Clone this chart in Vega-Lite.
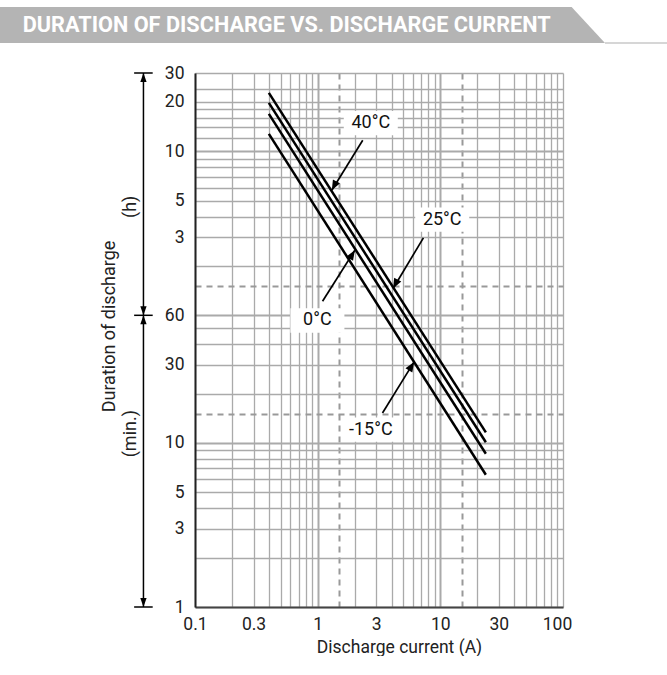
{
  "$schema": "https://vega.github.io/schema/vega-lite/v6.json",
  "padding": {"left": 0, "top": 7, "right": 0, "bottom": 0},
  "background": "white",
  "config": {"font": "Roboto", "view": {"stroke": null}},
  "datasets": {
    "bannerShape": [{"bx": 0, "by": 1}, {"bx": 0.857, "by": 1}, {"bx": 0.907, "by": 0}],
    "bannerLine": [{"bx": 0.907, "bx2": 1, "by": 0}],
    "bannerTitle": [{"title": "DURATION OF DISCHARGE VS. DISCHARGE CURRENT", "bx": 0.034, "by": 0.5}],
    "curves": [
      {"temp": "40°C", "current": 0.4, "minutes": 1362},
      {"temp": "40°C", "current": 23.5, "minutes": 11.6},
      {"temp": "25°C", "current": 0.4, "minutes": 1184},
      {"temp": "25°C", "current": 23.5, "minutes": 10.1},
      {"temp": "0°C", "current": 0.4, "minutes": 1014},
      {"temp": "0°C", "current": 23.5, "minutes": 8.6},
      {"temp": "-15°C", "current": 0.4, "minutes": 766},
      {"temp": "-15°C", "current": 23.5, "minutes": 6.4}
    ],
    "labels": [
      {"label": "40°C", "current": 2.71, "minutes": 890},
      {"label": "25°C", "current": 10.36, "minutes": 230},
      {"label": "0°C", "current": 0.995, "minutes": 55.8},
      {"label": "-15°C", "current": 2.71, "minutes": 12.07}
    ],
    "arrows": [
      {"temp": "40°C", "fromCurrent": 2.33, "fromMinutes": 701, "current": 1.305, "minutes": 347, "dir": "down"},
      {"temp": "25°C", "fromCurrent": 7.28, "fromMinutes": 178, "current": 4.12, "minutes": 87.4, "dir": "down"},
      {"temp": "0°C", "fromCurrent": 1.096, "fromMinutes": 73.1, "current": 2.009, "minutes": 149.6, "dir": "up"},
      {"temp": "-15°C", "fromCurrent": 3.377, "fromMinutes": 15.24, "current": 6.11, "minutes": 31.2, "dir": "up"}
    ],
    "rangeRules": [
      {"current": 0.038, "current2": 0.038, "minutes": 1, "minutes2": 1800},
      {"current": 0.0319, "current2": 0.0452, "minutes": 1, "minutes2": 1},
      {"current": 0.0319, "current2": 0.0452, "minutes": 60, "minutes2": 60},
      {"current": 0.0319, "current2": 0.0452, "minutes": 1800, "minutes2": 1800}
    ],
    "rangeHeads": [
      {"current": 0.038, "minutes": 1800, "dir": "up"},
      {"current": 0.038, "minutes": 60, "dir": "down"},
      {"current": 0.038, "minutes": 60, "dir": "up"},
      {"current": 0.038, "minutes": 1, "dir": "down"}
    ]
  },
  "spacing": 20,
  "vconcat": [
    {
      "width": 667,
      "height": 36,
      "layer": [
        {
          "data": {"name": "bannerShape"},
          "mark": {"type": "area", "color": "#b4b4b4"},
          "encoding": {
            "x": {"field": "bx", "type": "quantitative", "scale": {"domain": [0, 1], "nice": false}, "axis": null},
            "y": {"field": "by", "type": "quantitative", "scale": {"domain": [0, 1], "nice": false}, "axis": null}
          }
        },
        {
          "data": {"name": "bannerLine"},
          "mark": {"type": "rule", "color": "#c8c8c8", "strokeWidth": 1.5},
          "encoding": {
            "x": {"field": "bx", "type": "quantitative", "axis": null},
            "x2": {"field": "bx2"},
            "y": {"field": "by", "type": "quantitative", "axis": null}
          }
        },
        {
          "data": {"name": "bannerTitle"},
          "mark": {"type": "text", "align": "left", "baseline": "middle", "color": "white", "fontSize": 21.7, "fontWeight": "bold"},
          "encoding": {
            "x": {"field": "bx", "type": "quantitative", "axis": null},
            "y": {"field": "by", "type": "quantitative", "axis": null},
            "text": {"field": "title"}
          }
        }
      ]
    },
    {
      "spacing": 0,
      "align": "none",
      "hconcat": [
        {"width": 100, "height": 10, "data": {"values": []}, "mark": "point"},
        {
          "width": 368,
          "height": 534,
          "layer": [
            {
              "data": {"name": "curves"},
              "mark": {"type": "line", "color": "black", "strokeWidth": 2.5},
              "encoding": {
                "x": {
                  "field": "current", "type": "quantitative",
                  "scale": {"type": "log", "domain": [0.1, 100], "nice": false},
                  "axis": {
                    "values": [0.1, 0.2, 0.3, 0.4, 0.5, 0.6, 0.7, 0.8, 0.9, 1, 1.5, 2, 3, 4, 5, 6, 7, 8, 9, 10, 15, 20, 30, 40, 50, 60, 70, 80, 90, 100],
                    "labelExpr": "indexof([0.1, 0.3, 1, 3, 10, 30, 100], datum.value) >= 0 ? '' + datum.value : ''",
                    "labelOverlap": false,
                    "labelFlush": false,
                    "labelFontSize": 17.5,
                    "labelColor": "#222",
                    "labelPadding": 8,
                    "labelOffset": {"condition": {"test": "datum.value == 100", "value": -6}, "value": 0},
                    "ticks": false,
                    "domainColor": "#444",
                    "domainWidth": 2,
                    "grid": true,
                    "gridColor": {"condition": {"test": "datum.value == 1.5 || datum.value == 15", "value": "#999999"}, "value": "#aaaaaa"},
                    "gridDash": {"condition": {"test": "datum.value == 1.5 || datum.value == 15", "value": [6, 5]}, "value": []},
                    "gridWidth": {"condition": {"test": "indexof([1, 10, 1.5, 15], datum.value) >= 0", "value": 2}, "value": 1.3},
                    "gridOpacity": 1,
                    "title": "Discharge current (A)",
                    "titleX": 204,
                    "titleFontSize": 17.5,
                    "titleFontWeight": "normal",
                    "titleColor": "#222",
                    "titlePadding": 6
                  }
                },
                "y": {
                  "field": "minutes", "type": "quantitative",
                  "scale": {"type": "log", "domain": [1, 1800], "nice": false},
                  "axis": {
                    "values": [1, 2, 3, 4, 5, 6, 7, 8, 9, 10, 15, 20, 30, 40, 50, 60, 90, 120, 180, 240, 300, 360, 420, 480, 540, 600, 720, 840, 960, 1080, 1200, 1440, 1800],
                    "labelExpr": "datum.value == 180 ? '3' : datum.value == 300 ? '5' : datum.value == 600 ? '10' : datum.value == 1200 ? '20' : datum.value == 1800 ? '30' : (indexof([1, 3, 5, 10, 30, 60], datum.value) >= 0 ? '' + datum.value : '')",
                    "labelOverlap": false,
                    "labelFontSize": 17.5,
                    "labelColor": "#222",
                    "labelPadding": 11,
                    "ticks": false,
                    "domainColor": "#222",
                    "domainWidth": 2,
                    "grid": true,
                    "gridColor": {"condition": {"test": "datum.value == 15 || datum.value == 90", "value": "#999999"}, "value": "#aaaaaa"},
                    "gridDash": {"condition": {"test": "datum.value == 15 || datum.value == 90", "value": [6, 5]}, "value": []},
                    "gridWidth": {"condition": {"test": "indexof([10, 60, 600, 15, 90], datum.value) >= 0", "value": 2}, "value": 1.3},
                    "gridOpacity": 1,
                    "title": [
                      "Duration of discharge",
                      "(min.)\u00a0\u00a0\u00a0\u00a0\u00a0\u00a0\u00a0\u00a0\u00a0\u00a0\u00a0\u00a0\u00a0\u00a0\u00a0\u00a0\u00a0\u00a0\u00a0\u00a0\u00a0\u00a0\u00a0\u00a0\u00a0\u00a0\u00a0\u00a0\u00a0\u00a0\u00a0\u00a0\u00a0\u00a0\u00a0\u00a0\u00a0\u00a0\u00a0\u00a0\u00a0\u00a0\u00a0(h)"
                    ],
                    "titleY": 253,
                    "titleFontSize": 18,
                    "titleFontWeight": "normal",
                    "titleColor": "#222",
                    "titleLineHeight": 21,
                    "titlePadding": 25
                  }
                },
                "detail": {"field": "temp"}
              }
            },
            {
              "data": {"name": "labels"},
              "mark": {"type": "point", "shape": "M-1,-0.45H1V0.45H-1Z", "filled": true, "color": "white", "opacity": 1, "size": 2916, "strokeWidth": 0},
              "encoding": {
                "x": {"field": "current", "type": "quantitative", "scale": {"type": "log", "domain": [0.1, 100], "nice": false}},
                "y": {"field": "minutes", "type": "quantitative", "scale": {"type": "log", "domain": [1, 1800], "nice": false}}
              }
            },
            {
              "data": {"name": "arrows"},
              "mark": {"type": "rule", "color": "black", "strokeWidth": 1.7},
              "encoding": {
                "x": {"field": "fromCurrent", "type": "quantitative", "scale": {"type": "log", "domain": [0.1, 100], "nice": false}},
                "y": {"field": "fromMinutes", "type": "quantitative", "scale": {"type": "log", "domain": [1, 1800], "nice": false}},
                "x2": {"field": "current"},
                "y2": {"field": "minutes"}
              }
            },
            {
              "data": {"name": "arrows"},
              "transform": [{"filter": "datum.dir == 'down'"}],
              "mark": {"type": "point", "shape": "M0,0L-0.4,-1L0.4,-1Z", "angle": 27.5, "filled": true, "color": "black", "opacity": 1, "size": 400, "strokeWidth": 0},
              "encoding": {
                "x": {"field": "current", "type": "quantitative", "scale": {"type": "log", "domain": [0.1, 100], "nice": false}},
                "y": {"field": "minutes", "type": "quantitative", "scale": {"type": "log", "domain": [1, 1800], "nice": false}}
              }
            },
            {
              "data": {"name": "arrows"},
              "transform": [{"filter": "datum.dir == 'up'"}],
              "mark": {"type": "point", "shape": "M0,0L-0.4,1L0.4,1Z", "angle": 31.3, "filled": true, "color": "black", "opacity": 1, "size": 400, "strokeWidth": 0},
              "encoding": {
                "x": {"field": "current", "type": "quantitative", "scale": {"type": "log", "domain": [0.1, 100], "nice": false}},
                "y": {"field": "minutes", "type": "quantitative", "scale": {"type": "log", "domain": [1, 1800], "nice": false}}
              }
            },
            {
              "data": {"name": "labels"},
              "mark": {"type": "text", "fontSize": 18, "color": "#111", "align": "center", "baseline": "middle"},
              "encoding": {
                "x": {"field": "current", "type": "quantitative", "scale": {"type": "log", "domain": [0.1, 100], "nice": false}},
                "y": {"field": "minutes", "type": "quantitative", "scale": {"type": "log", "domain": [1, 1800], "nice": false}},
                "text": {"field": "label"}
              }
            },
            {
              "data": {"name": "rangeRules"},
              "mark": {"type": "rule", "color": "black", "strokeWidth": 1.5},
              "encoding": {
                "x": {"field": "current", "type": "quantitative", "scale": {"type": "log", "domain": [0.1, 100], "nice": false}},
                "y": {"field": "minutes", "type": "quantitative", "scale": {"type": "log", "domain": [1, 1800], "nice": false}},
                "x2": {"field": "current2"},
                "y2": {"field": "minutes2"}
              }
            },
            {
              "data": {"name": "rangeHeads"},
              "transform": [{"filter": "datum.dir == 'down'"}],
              "mark": {"type": "point", "shape": "M0,0L-0.35,-1L0.35,-1Z", "filled": true, "color": "black", "opacity": 1, "size": 324, "strokeWidth": 0},
              "encoding": {
                "x": {"field": "current", "type": "quantitative", "scale": {"type": "log", "domain": [0.1, 100], "nice": false}},
                "y": {"field": "minutes", "type": "quantitative", "scale": {"type": "log", "domain": [1, 1800], "nice": false}}
              }
            },
            {
              "data": {"name": "rangeHeads"},
              "transform": [{"filter": "datum.dir == 'up'"}],
              "mark": {"type": "point", "shape": "M0,0L-0.35,1L0.35,1Z", "filled": true, "color": "black", "opacity": 1, "size": 324, "strokeWidth": 0},
              "encoding": {
                "x": {"field": "current", "type": "quantitative", "scale": {"type": "log", "domain": [0.1, 100], "nice": false}},
                "y": {"field": "minutes", "type": "quantitative", "scale": {"type": "log", "domain": [1, 1800], "nice": false}}
              }
            }
          ]
        }
      ]
    }
  ]
}
